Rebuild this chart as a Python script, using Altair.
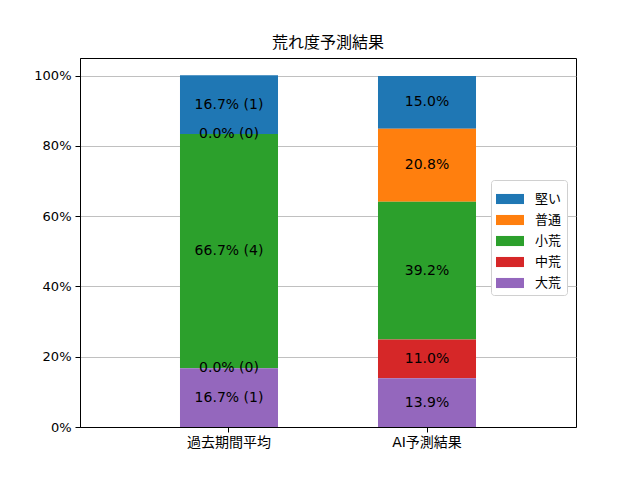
import altair as alt
import pandas as pd

categories = ["過去期間平均", "AI予測結果"]
series = ["堅い", "普通", "小荒", "中荒", "大荒"]
colors = ["#1f77b4", "#ff7f0e", "#2ca02c", "#d62728", "#9467bd"]
past_pct = [16.7, 0.0, 66.7, 0.0, 16.7]
past_counts = [1, 0, 4, 0, 1]
ai_pct = [15.0, 20.8, 39.2, 11.0, 13.9]
y_ticks = [0, 0.2, 0.4, 0.6, 0.8, 1.0]

rows = []
n = len(series)
for i, s in enumerate(series):
    rows.append({"cat": categories[0], "series": s, "value": past_pct[i] / 100,
                 "label": f"{past_pct[i]:.1f}% ({past_counts[i]})", "idx": n - 1 - i})
    rows.append({"cat": categories[1], "series": s, "value": ai_pct[i] / 100,
                 "label": f"{ai_pct[i]:.1f}%", "idx": n - 1 - i})
df = pd.DataFrame(rows)

FONT = "DejaVu Sans, Noto Sans CJK JP"

base = alt.Chart(df).transform_stack(
    stack="value", groupby=["cat"],
    sort=[alt.SortField("idx", order="ascending")],
    as_=["y0", "y1"],
).transform_calculate(mid="(datum.y0 + datum.y1) / 2")

xenc = alt.X("cat:N", sort=categories,
             scale=alt.Scale(paddingInner=0.505, paddingOuter=0.505),
             axis=alt.Axis(title=None, labelAngle=0, grid=False, domainColor="black",
                           tickColor="black", tickSize=5, labelFontSize=14,
                           labelFont=FONT, labelColor="black", labelPadding=3))

bars = base.mark_bar().encode(
    x=xenc,
    y=alt.Y("y0:Q", scale=alt.Scale(domain=[0, 1.05], nice=False, zero=True),
            axis=alt.Axis(title=None, values=y_ticks, format=".0%", grid=True,
                          gridColor="#b0b0b0", gridWidth=0.8, domainColor="black",
                          tickColor="black", tickSize=5, labelFontSize=13,
                          labelFont=FONT, labelColor="black", labelPadding=4)),
    y2="y1:Q",
    color=alt.Color("series:N", scale=alt.Scale(domain=series, range=colors),
                    legend=alt.Legend(title=None, orient="none", legendX=411, legendY=122,
                                      symbolType="M-1,-0.36H1V0.36H-1Z", symbolSize=784,
                                      symbolStrokeWidth=0, labelFontSize=13, labelFont=FONT,
                                      labelColor="black", labelOffset=11,
                                      strokeColor="#d0d0d0", fillColor="white",
                                      padding=5, cornerRadius=3, rowPadding=0)),
)

texts = base.mark_text(font=FONT, fontSize=14, color="black", baseline="middle").encode(
    x=alt.X("cat:N", sort=categories),
    y="mid:Q",
    text="label:N",
)

chart = alt.layer(bars, texts).properties(
    width=496, height=369,
    title=alt.TitleParams("荒れ度予測結果", font=FONT, fontSize=16, fontWeight="normal",
                          color="black", offset=7),
    autosize=alt.AutoSizeParams(type="none"),
    padding={"left": 72, "top": 50, "right": 40, "bottom": 30},
).configure_view(stroke="black", strokeWidth=1)

chart.save("out.html", embed_options={"renderer": "svg", "actions": False})
